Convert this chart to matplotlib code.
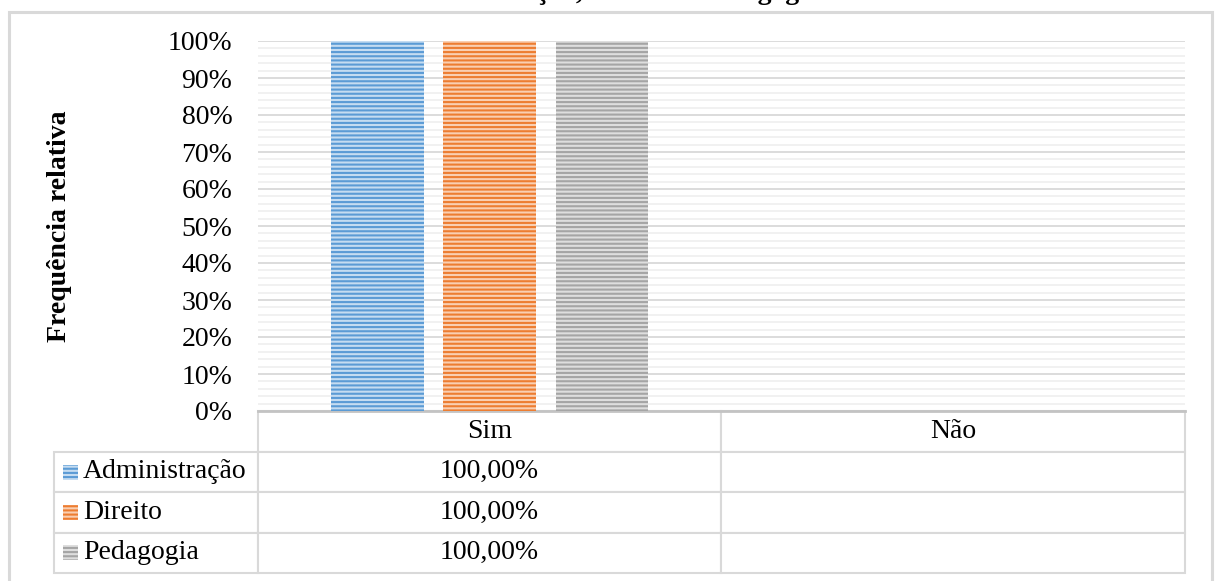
import numpy as np
import matplotlib
matplotlib.use('Agg')
import matplotlib.pyplot as plt
from matplotlib.patches import Rectangle

# dados
cursos = ['Administração', 'Direito', 'Pedagogia']
respostas = ['Sim', 'Não']
sim = [1.0, 1.0, 1.0]
nao = [None, None, None]   # células vazias na tabela
titulo = 'Administração, Direito e Pedagogia'

cores = ['#5b9bd5', '#ed7d31', '#a5a5a5']
cores_claras = ['#c5dcf1', '#f9cfb2', '#dedede']

plt.rcParams['font.family'] = ['Liberation Serif', 'DejaVu Serif']
plt.rcParams['hatch.linewidth'] = 1.5

W, H = 1219, 581
fig = plt.figure(figsize=(W / 100, H / 100), dpi=100)


def px(x0, y0, x1, y1):
    # caixa em pixels (a partir do topo) -> coordenadas da figura
    return [x0 / W, 1 - y1 / H, (x1 - x0) / W, (y1 - y0) / H]


ax = fig.add_axes(px(258, 41, 1185, 411))

x = np.arange(len(respostas))
largura = 0.2
desloc = [-0.242, 0.0, 0.242]
for i, curso in enumerate(cursos):
    valores = [sim[i] or 0, nao[i] or 0]
    ax.bar(x + desloc[i], valores, largura, facecolor=cores_claras[i],
           edgecolor=cores[i], hatch='----', linewidth=0, zorder=3)

ax.set_xlim(-0.5, 1.5)
ax.set_ylim(0, 1)
ax.set_xticks([])
ax.set_yticks(np.arange(0, 1.01, 0.1))
ax.set_yticks(np.arange(0, 1.01, 0.02), minor=True)
ax.set_yticklabels([f'{v:.0%}' for v in np.arange(0, 1.01, 0.1)], fontsize=20)
ax.tick_params(axis='y', which='both', length=0, pad=18.5)
ax.yaxis.grid(True, which='minor', color='#f0f0f0', linewidth=1.3)
ax.yaxis.grid(True, which='major', color='#d9d9d9', linewidth=1.3)
ax.set_axisbelow(True)
for lado in ['top', 'left', 'right']:
    ax.spines[lado].set_visible(False)
ax.spines['bottom'].set_color('#c3c3c3')
ax.spines['bottom'].set_linewidth(2)

ax.set_ylabel('Frequência relativa', fontsize=20, fontweight='bold')
ax.yaxis.set_label_coords(-0.201, 0.5)


def fmt(v):
    return '' if v is None else f'{v * 100:.2f}%'.replace('.', ',')


texto = [[c, fmt(s), fmt(n)] for c, s, n in zip(cursos, sim, nao)]
larg_px = [204, 463, 464]
tab = ax.table(cellText=texto, colLabels=[''] + respostas,
               colWidths=[w / 927 for w in larg_px],
               cellLoc='center',
               bbox=[(54 - 258) / 927, -(573 - 411) / 370, 1131 / 927, 162 / 370])
tab.auto_set_font_size(False)
for (r, c), cel in tab.get_celld().items():
    cel.set_edgecolor('#d9d9d9')
    cel.set_linewidth(1.5)
    cel.get_text().set_fontsize(20)
    if r == 0 and c == 0:
        cel.visible_edges = ''
    elif c == 0:
        cel._loc = 'left'
        cel.PAD = 0.142
        cel.get_text().set_ha('left')

# chaves da legenda na tabela
for i, cor in enumerate(cores):
    yc = 411 + 40 * (i + 1) + 21
    fig.add_artist(Rectangle((63 / W, 1 - (yc + 7.5) / H), 15 / W, 15 / H,
                             transform=fig.transFigure, facecolor=cores_claras[i],
                             edgecolor=cor, hatch='----', linewidth=0))

# moldura do gráfico
fig.add_artist(Rectangle((9 / W, -0.05), (1212 - 9) / W, 1.05 - 12 / H,
                         transform=fig.transFigure, fill=False,
                         edgecolor='#d9d9d9', linewidth=2.2))

# título (no original só aparece a parte de baixo, cortada no topo)
fig.text(610 / W, 1 + 1 / H, titulo, ha='center', va='baseline',
         fontsize=20, fontweight='bold')

fig.savefig('out.png', dpi=100)
